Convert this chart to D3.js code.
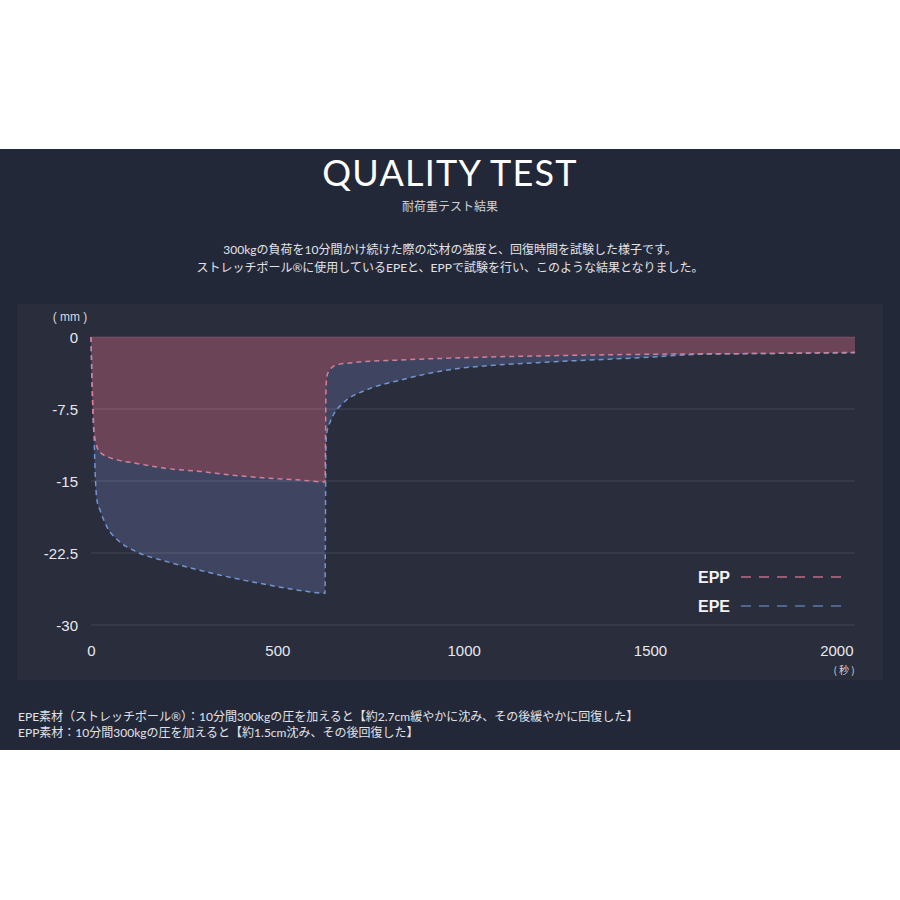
<!DOCTYPE html>
<html><head><meta charset="utf-8">
<script src="https://cdn.jsdelivr.net/npm/d3@7"></script>
<style>
html,body{margin:0;padding:0;background:#fff;}
svg{display:block;}
</style></head>
<body>
<svg id="c" width="900" height="900"></svg>
<script>
// ---- data ----
const eppTime = [0,3,8,24,70,113,204,292,381,472,561,628,629,630,631,633,641,660,695,829,963,1232,1500,1857,2050];
const eppVal  = [0,-5,-10,-12.0,-12.8,-13.1,-13.7,-14.0,-14.4,-14.7,-14.9,-15.1,-12,-7,-5,-4.1,-3.4,-2.9,-2.7,-2.4,-2.2,-1.95,-1.8,-1.7,-1.6];
const epeTime = [0,3,8,11,16,24,43,70,113,204,292,381,472,561,628,629,630,631,634,641,649,676,740,829,963,1097,1232,1500,1634,1857,2050];
const epeVal  = [0,-5,-10,-14,-17,-18.0,-19.8,-21.1,-22.2,-23.4,-24.3,-25.1,-25.8,-26.4,-26.7,-20,-13,-10.6,-9.7,-8.9,-8.2,-6.9,-5.5,-4.5,-3.4,-2.9,-2.6,-2.1,-1.8,-1.7,-1.65];
const yTicks = [0,-7.5,-15,-22.5,-30];
const xTicks = [0,500,1000,1500,2000];
const seriesNames = ["EPP","EPE"];
const title = "QUALITY TEST";
const subtitle = "耐荷重テスト結果";
const descLines = ["300kgの負荷を10分間かけ続けた際の芯材の強度と、回復時間を試験した様子です。",
                   "ストレッチポール®に使用しているEPEと、EPPで試験を行い、このような結果となりました。"];
const noteLines = ["EPE素材（ストレッチポール®）：10分間300kgの圧を加えると【約2.7cm緩やかに沈み、その後緩やかに回復した】",
                   "EPP素材：10分間300kgの圧を加えると【約1.5cm沈み、その後回復した】"];

const svg = d3.select("#c");
const JP = "Lato, 'Noto Sans CJK JP', sans-serif";

// backgrounds
svg.append("rect").attr("x",0).attr("y",149).attr("width",900).attr("height",601).attr("fill","#232839");
svg.append("rect").attr("x",17).attr("y",304).attr("width",866).attr("height",376).attr("fill","#292d3c");

// titles
svg.append("text").attr("x",450).attr("y",186).attr("text-anchor","middle")
  .attr("fill","#fff").attr("font-family","Lato, sans-serif").attr("font-weight",400)
  .attr("font-size",36).attr("letter-spacing",1.2).text(title);
svg.append("text").attr("x",450).attr("y",211).attr("text-anchor","middle")
  .attr("fill","#d0d2d8").attr("font-family",JP).attr("font-size",12).text(subtitle);
descLines.forEach((t,i)=>{
  svg.append("text").attr("x",450).attr("y",254+i*18).attr("text-anchor","middle")
    .attr("fill","#e2e3e8").attr("font-family",JP).attr("font-size",12).text(t);
});

// scales
const x = d3.scaleLinear().domain([0,2050]).range([91,855]);
const y = d3.scaleLinear().domain([-30,0]).range([625,337]);

const epp = eppTime.map((t,i)=>({t,v:eppVal[i]}));
const epe = epeTime.map((t,i)=>({t,v:epeVal[i]}));

const area = d3.area().x(d=>x(d.t)).y0(y(0)).y1(d=>y(d.v)).curve(d3.curveMonotoneX);
const line = d3.line().x(d=>x(d.t)).y(d=>y(d.v)).curve(d3.curveMonotoneX);

svg.append("path").datum(epe).attr("d",area).attr("fill","#3f4560");
svg.append("path").datum(epp).attr("d",area).attr("fill","#6c4458");

// grid
const g = svg.append("g");
g.selectAll("line").data(yTicks).join("line")
  .attr("x1",91).attr("x2",855).attr("y1",d=>y(d)).attr("y2",d=>y(d))
  .attr("stroke","#ffffff").attr("stroke-opacity",0.13).attr("stroke-width",1.2);

// lines
svg.append("path").datum(epe).attr("d",line).attr("fill","none")
  .attr("stroke","#6f95d4").attr("stroke-width",1.5).attr("stroke-dasharray","5,4");
svg.append("path").datum(epp).attr("d",line).attr("fill","none")
  .attr("stroke","#e07a93").attr("stroke-width",1.5).attr("stroke-dasharray","5,4");

// y axis
const yAxis = d3.axisLeft(y).tickValues(yTicks).tickSize(0).tickPadding(0).tickFormat(d=>String(d));
const ya = svg.append("g").attr("transform","translate(78,0)").call(yAxis);
ya.select(".domain").remove();
ya.selectAll("text").attr("fill","#e8e9ee").attr("font-family","'Liberation Sans', Arial, sans-serif")
  .attr("font-size",15).attr("dy","0.35em");
svg.append("text").attr("x",70).attr("y",321).attr("text-anchor","middle")
  .attr("fill","#d8d9de").attr("font-family","'Liberation Sans', sans-serif").attr("font-size",12).text("( mm )");

// x axis
const xAxis = d3.axisBottom(x).tickValues(xTicks).tickSize(0).tickPadding(0).tickFormat(d3.format("d"));
const xa = svg.append("g").attr("transform","translate(0,651)").call(xAxis);
xa.select(".domain").remove();
xa.selectAll("text").attr("fill","#e8e9ee").attr("font-family","'Liberation Sans', Arial, sans-serif")
  .attr("font-size",15).attr("dy","0.35em");
svg.append("text").attr("x",844).attr("y",674).attr("text-anchor","middle")
  .attr("fill","#d8d9de").attr("font-family","'Noto Sans CJK JP', sans-serif").attr("font-size",10).text("( 秒 )");

// legend
const legColors = ["#c86a80","#5a79ad"];
seriesNames.forEach((n,i)=>{
  const ly = 577 + i*29;
  svg.append("text").attr("x",730).attr("y",ly).attr("dy","0.35em").attr("text-anchor","end")
    .attr("fill","#f2f2f5").attr("font-family","'Liberation Sans', Arial, sans-serif")
    .attr("font-weight","bold").attr("font-size",16).text(n);
  svg.append("line").attr("x1",741).attr("x2",843).attr("y1",ly).attr("y2",ly)
    .attr("stroke",legColors[i]).attr("stroke-width",1.6).attr("stroke-dasharray","10,8");
});

// notes
noteLines.forEach((t,i)=>{
  svg.append("text").attr("x",18).attr("y",721+i*16)
    .attr("fill","#e2e3e8").attr("font-family",JP).attr("font-size",12).text(t);
});
</script>
</body></html>
